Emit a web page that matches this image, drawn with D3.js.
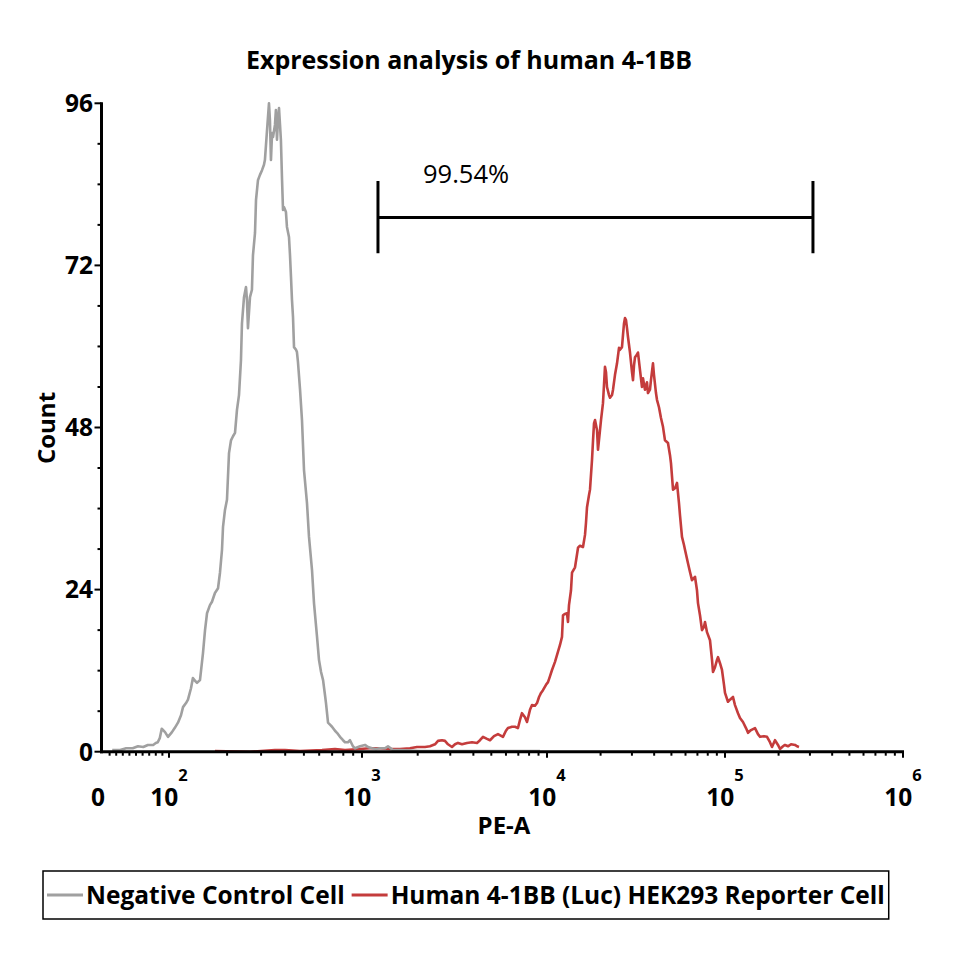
<!DOCTYPE html>
<html><head><meta charset="utf-8">
<script src="https://cdn.jsdelivr.net/npm/d3@7/dist/d3.min.js"></script>
<style>body{margin:0;background:#fff}svg{display:block}</style>
</head><body><svg id="chart" width="960" height="960"></svg>
<script>
// ---------- data ----------
const chartTitle = "Expression analysis of human 4-1BB";
const xLabel = "PE-A";
const yLabel = "Count";
const seriesNames = ["Negative Control Cell", "Human 4-1BB (Luc) HEK293 Reporter Cell"];
const seriesColors = ["#a0a0a0", "#c43c3c"];
const yTicks = [0, 24, 48, 72, 96];
const yMinorTicks = [6, 12, 18, 30, 36, 42, 54, 60, 66, 78, 84, 90];
const xDecades = [2, 3, 4, 5, 6];
const gateRange = [1220, 312000];
const gateLabel = "99.54%";

// Negative control histogram (PE-A value, count)
const grayPE = [14,26,35,45,53,61,68,76,80,83,
  86,89,94,98.5,103.6,107,111.3,115.4,118.2,122.5,
  125.4,130,133,136.4,139.7,144.7,150,153.7,157.4,163,
  167,173,179.5,183.7,188.2,190.5,195,199.7,204.6,209.5,
  214.6,219.8,225,230.5,236,238.8,244.7,250.6,253.5,256.5,
  262.8,269,272.3,279,282.4,289,296,303.4,310.5,314,
  322,329.6,333.4,337.5,342,346,354,358,362.7,367,
  371.5,376,380,385,389.7,394.5,403.6,408.5,418.5,423.6,
  428.6,433.7,439,444.4,455,460,465.8,477.5,488.7,500.6,
  518.8,531.4,550.8,564,584.8,598.6,613.5,628.5,643,650.8,
  666.8,682.6,699.2,724.6,741.9,769,797.4,816.5,846,866.4,
  897.6,920,977,1038,1077,1132,1190,1251,1330,1382,
  1471,1605,2058,2990,4345,6310,9165];
const grayCount = [0.25,0.25,0.5,0.5,0.8,0.7,1.0,1.0,1.3,1.4,
  2.0,3.4,2.9,2.2,2.9,3.5,4.3,5.4,6.6,7.2,
  7.7,9.4,10.9,10.5,10.2,10.6,14.6,18.0,20.5,21.7,
  22.2,23.5,24.2,26.5,29.9,33.3,35.8,37.3,44.2,46.1,
  46.7,47.2,50.6,52.8,58.0,63.4,67.3,68.8,66.9,62.7,
  67.3,68.4,73.5,76.8,81.7,84.6,85.4,86.1,86.9,87.6,
  92.0,96.0,93.5,87.6,91.6,91.0,92.8,95.0,90.6,93.5,
  95.3,92.8,90.6,84.9,80.2,80.6,79.9,77.7,76.2,73.5,
  70.3,66.9,64.4,59.9,59.5,59.2,57.7,53.6,49.1,41.7,
  36.8,31.8,26.9,22.0,17.0,13.6,11.8,10.6,8.4,7.2,
  4.3,4.0,3.7,3.1,2.8,2.2,1.7,1.4,1.4,1.7,
  0.8,0.5,0.8,1.0,0.7,0.5,0.4,0.5,0.5,0.8,
  0.25,0.25,0.1,0.1,0.1,0.1,0.1];

// Human 4-1BB reporter histogram (PE-A value, count)
const redPE = [173,262.8,354,399,477.5,620.5,724.6,816.5,977,1105,
  1251,1417,1605,1817,1983,2190,2331,2481,2576,2706,
  2809,2916,3065,3182,3303,3471,3695,3933,4184,4343,
  4508,4740,4920,5170,5433,5781,5999,6151,6467,6714,
  6967,7144,7324,7603,7798,8091,8298,8610,8831,9057,
  9283,9510,9877,10130,10400,10670,11090,11530,11830,12140,
  12300,12620,12950,13120,13290,13640,13820,14370,14940,15320,
  15930,16350,16560,16780,17220,17440,17900,18140,18370,18610,
  19100,19340,19850,20110,20630,20900,21170,21450,21730,22300,
  22590,23190,23490,24100,24740,25380,25700,26380,26730,27080,
  27430,27790,28150,28510,29260,30030,30420,30820,31220,32030,
  32450,33300,34170,34610,35520,36450,36920,37890,38380,39390,
  39900,40950,41490,42570,43690,44840,46010,47830,49090,49730,
  51050,52380,53750,55140,55870,57330,58830,59600,61950,63580,
  65240,67830,69600,70510,72370,74260,76210,77200,79230,82360,
  84530,85620,87870,90160,91340,93740,96180,98720,100000,103900,
  106700,110900,113800,118300,121400,126200,131200,134700,140000,147400,
  153200,157300,165600,172200,178900,183700,190900,198500,203700,211800,
  217300,225900,234900,247400,253800,260400];
const redCount = [0.1,0,0.25,0.25,0.1,0.25,0.4,0.25,0.4,0.5,
  0.5,0.4,0.4,0.5,0.7,0.7,0.8,1.1,1.6,1.7,
  1.6,1.1,0.7,1.1,1.3,1.1,1.3,1.4,1.3,1.7,
  2.2,1.9,1.7,2.3,2.6,2.2,3.1,3.5,3.7,3.7,
  3.5,4.7,5.7,5.1,4.4,6.2,6.9,6.8,7.2,8.1,
  8.7,9.1,9.9,10.3,11.2,12.1,13.3,14.8,15.8,17.0,
  20.2,20.4,20.5,19.2,21.7,23.9,26.5,27.3,30.2,30.5,
  30.3,32.1,33.9,36.2,38.0,38.8,43.2,46.1,48.6,49.1,
  47.6,44.7,47.6,49.1,51.6,54.3,57.0,56.2,54.0,52.8,
  52.4,52.8,53.6,55.8,57.5,59.8,59.5,59.9,61.7,63.4,
  64.2,63.9,62.7,61.4,59.1,56.2,55.0,57.2,58.4,58.8,
  59.1,56.5,54.0,55.3,53.6,54.7,53.1,53.6,55.0,57.5,
  55.8,53.1,52.1,51.0,49.4,48.1,46.1,45.7,43.9,42.7,
  38.8,39.0,39.8,36.8,35.0,31.8,30.6,29.9,27.9,26.6,
  25.4,25.9,23.9,22.0,20.2,18.0,18.5,19.2,17.7,16.5,
  13.6,11.8,12.5,13.6,14.0,13.1,12.1,9.9,8.7,7.4,
  7.7,8.1,6.9,5.7,5.0,4.4,3.5,2.8,3.2,3.5,
  2.6,2.2,2.3,2.2,1.4,0.7,1.7,1.0,0.4,0.8,
  1.0,0.8,1.1,1.0,0.8,0.7];

// ---------- layout ----------
const FONT = "'Open Sans', 'DejaVu Sans', sans-serif";
const svg = d3.select("#chart");
const plotLeft = 101.5, plotBottom = 751.7, plotTop = 103.3, plotRight = 903;

// biexponential-style display: linear from 0 to 100, then log decades
const decadeScale = d3.scaleLinear()
  .domain([0, 2, 3, 4, 5, 6])
  .range([103, 169, 362, 547, 725, 903]);
const toDecade = v => v < 100 ? v / 50 : Math.log10(v);
const x = v => decadeScale(toDecade(v));
const y = d3.scaleLinear().domain([0, 96]).range([plotBottom, plotTop]);

// title
svg.append("text").attr("x", 469).attr("y", 69)
  .attr("text-anchor", "middle").attr("font-family", FONT)
  .attr("font-weight", "bold").attr("font-size", 25).text(chartTitle);

// series
const line = d3.line().x(d => x(d[0])).y(d => y(d[1]));
const redData = redPE.map((v, i) => [v, redCount[i]]);
const grayData = grayPE.map((v, i) => [v, grayCount[i]]);
svg.append("path").datum(redData).attr("d", line)
  .attr("fill", "none").attr("stroke", seriesColors[1]).attr("stroke-width", 2.6)
  .attr("stroke-linejoin", "round");
svg.append("path").datum(grayData).attr("d", line)
  .attr("fill", "none").attr("stroke", seriesColors[0]).attr("stroke-width", 2.6)
  .attr("stroke-linejoin", "round");

// y axis
const gy = svg.append("g");
gy.append("line").attr("x1", plotLeft).attr("x2", plotLeft)
  .attr("y1", plotTop - 1).attr("y2", plotBottom + 1.5)
  .attr("stroke", "#000").attr("stroke-width", 3);
gy.selectAll(".ymaj").data(yTicks).join("line")
  .attr("x1", plotLeft - 7).attr("x2", plotLeft)
  .attr("y1", d => y(d)).attr("y2", d => y(d))
  .attr("stroke", "#000").attr("stroke-width", 2);
gy.selectAll(".ymin").data(yMinorTicks).join("line")
  .attr("x1", plotLeft - 4).attr("x2", plotLeft)
  .attr("y1", d => y(d)).attr("y2", d => y(d))
  .attr("stroke", "#000").attr("stroke-width", 2);
gy.selectAll(".ylab").data(yTicks).join("text")
  .attr("x", 93).attr("y", d => y(d)).attr("dy", "0.36em")
  .attr("text-anchor", "end").attr("font-family", FONT)
  .attr("font-weight", "bold").attr("font-size", 24.5).text(d => d);

// x axis
const gx = svg.append("g");
gx.append("line").attr("x1", plotLeft - 1.5).attr("x2", plotRight + 1)
  .attr("y1", plotBottom).attr("y2", plotBottom)
  .attr("stroke", "#000").attr("stroke-width", 3);
const majorX = xDecades.map(e => Math.pow(10, e));
const minorX = [];
for (let k = 1; k <= 9; k++) minorX.push(k * 10);
xDecades.slice(0, -1).forEach(e => { for (let k = 2; k <= 9; k++) minorX.push(k * Math.pow(10, e)); });
gx.selectAll(".xmaj").data(majorX).join("line")
  .attr("x1", d => x(d)).attr("x2", d => x(d))
  .attr("y1", plotBottom).attr("y2", plotBottom + 6)
  .attr("stroke", "#000").attr("stroke-width", 2);
gx.selectAll(".xmin").data(minorX).join("line")
  .attr("x1", d => x(d)).attr("x2", d => x(d))
  .attr("y1", plotBottom).attr("y2", plotBottom + 4)
  .attr("stroke", "#000").attr("stroke-width", 2);
gx.append("text").attr("x", x(0) - 5).attr("y", 806)
  .attr("text-anchor", "middle").attr("font-family", FONT)
  .attr("font-weight", "bold").attr("font-size", 24.5).text("0");
xDecades.forEach(e => {
  const t = gx.append("text").attr("x", x(Math.pow(10, e))).attr("y", 806)
    .attr("text-anchor", "middle").attr("font-family", FONT).attr("font-weight", "bold");
  t.append("tspan").attr("font-size", 24.5).text("10");
  t.append("tspan").attr("font-size", 16.5).attr("dy", -25).text(e);
});

// axis titles
svg.append("text").attr("x", 504).attr("y", 834)
  .attr("text-anchor", "middle").attr("font-family", FONT)
  .attr("font-weight", "bold").attr("font-size", 24).text(xLabel);
svg.append("text").attr("transform", "translate(55,428) rotate(-90)")
  .attr("text-anchor", "middle").attr("font-family", FONT)
  .attr("font-weight", "bold").attr("font-size", 24).text(yLabel);

// gate marker
const gg = svg.append("g").attr("stroke", "#000").attr("stroke-width", 3);
const gTop = y(84.5), gMid = y(79.1), gBot = y(73.8);
gg.append("line").attr("x1", x(gateRange[0])).attr("x2", x(gateRange[1])).attr("y1", gMid).attr("y2", gMid);
gg.append("line").attr("x1", x(gateRange[0])).attr("x2", x(gateRange[0])).attr("y1", gTop).attr("y2", gBot);
gg.append("line").attr("x1", x(gateRange[1])).attr("x2", x(gateRange[1])).attr("y1", gTop).attr("y2", gBot);
svg.append("text").attr("x", x(gateRange[0]) + 45).attr("y", gTop + 2)
  .attr("font-family", FONT).attr("font-size", 25.5).text(gateLabel);

// legend
const lg = svg.append("g");
const legY = 895;
let cx = 47;
seriesNames.forEach((name, i) => {
  lg.append("line").attr("x1", cx).attr("x2", cx + 36).attr("y1", legY).attr("y2", legY)
    .attr("stroke", seriesColors[i]).attr("stroke-width", 3);
  const t = lg.append("text").attr("x", cx + 39).attr("y", legY + 9)
    .attr("font-family", FONT).attr("font-weight", "bold").attr("font-size", 24.5).text(name);
  const w = t.node().getComputedTextLength();
  cx = cx + 39 + w + 7;
});
lg.insert("rect", ":first-child").attr("x", 43).attr("y", 871)
  .attr("width", cx - 7 + 4 - 43).attr("height", 48)
  .attr("fill", "#fff").attr("stroke", "#000").attr("stroke-width", 1.5);
</script></body></html>
